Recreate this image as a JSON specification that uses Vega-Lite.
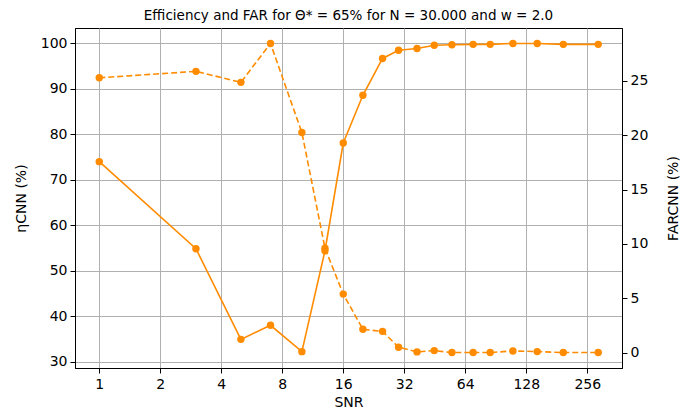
{
  "$schema": "https://vega.github.io/schema/vega-lite/v6.json",
  "width": 547,
  "height": 340,
  "autosize": {"type": "none"},
  "padding": {"left": 75, "top": 28, "right": 63, "bottom": 43},
  "background": "white",
  "config": {
    "font": "DejaVu Sans",
    "view": {"stroke": "black", "strokeWidth": 1},
    "axis": {
      "labelFont": "DejaVu Sans",
      "titleFont": "DejaVu Sans",
      "labelFontSize": 14,
      "titleFontSize": 14,
      "titleFontWeight": "normal",
      "labelColor": "#000",
      "titleColor": "#000",
      "domainColor": "black",
      "tickColor": "black",
      "tickSize": 5,
      "gridColor": "#b0b0b0",
      "gridWidth": 1,
      "gridOpacity": 1
    }
  },
  "title": {
    "text": "Efficiency and FAR for Θ* = 65% for N = 30.000 and w = 2.0",
    "font": "DejaVu Sans",
    "fontSize": 13.5,
    "fontWeight": "normal",
    "color": "#000",
    "offset": 6
  },
  "data": {
    "values": [
      {"snr": 1, "eta": 74.0, "far": 25.28},
      {"snr": 3, "eta": 54.85, "far": 25.87},
      {"snr": 5, "eta": 34.9, "far": 24.86},
      {"snr": 7, "eta": 38.0, "far": 28.44},
      {"snr": 10, "eta": 32.2, "far": 20.24},
      {"snr": 13, "eta": 54.4, "far": 9.6},
      {"snr": 16, "eta": 78.1, "far": 5.38},
      {"snr": 20, "eta": 88.6, "far": 2.14},
      {"snr": 25, "eta": 96.7, "far": 1.95},
      {"snr": 30, "eta": 98.5, "far": 0.49},
      {"snr": 37, "eta": 98.9, "far": 0.06},
      {"snr": 45, "eta": 99.6, "far": 0.18},
      {"snr": 55, "eta": 99.7, "far": 0.0},
      {"snr": 70, "eta": 99.8, "far": 0.0},
      {"snr": 85, "eta": 99.8, "far": 0.0},
      {"snr": 110, "eta": 100.0, "far": 0.15},
      {"snr": 145, "eta": 100.0, "far": 0.09},
      {"snr": 195, "eta": 99.8, "far": 0.0},
      {"snr": 290, "eta": 99.8, "far": 0.0}
    ]
  },
  "encoding": {
    "x": {
      "field": "snr",
      "type": "quantitative",
      "scale": {"type": "log", "base": 2, "domain": [0.759, 380], "nice": false},
      "axis": {
        "title": "SNR",
        "values": [1, 2, 4, 8, 16, 32, 64, 128, 256],
        "format": "d",
        "labelFlush": false,
        "labelPadding": 4,
        "titlePadding": 4
      }
    }
  },
  "layer": [
    {
      "encoding": {
        "y": {
          "field": "eta",
          "type": "quantitative",
          "scale": {"domain": [28.6, 103.4], "nice": false, "zero": false},
          "axis": {
            "orient": "left",
            "title": "ηCNN (%)",
            "values": [30, 40, 50, 60, 70, 80, 90, 100],
            "titlePadding": 12,
            "labelPadding": 3
          }
        }
      },
      "layer": [
        {"mark": {"type": "line", "color": "#ff8c00", "strokeWidth": 1.6}},
        {"mark": {"type": "point", "filled": true, "color": "#ff8c00", "size": 55, "opacity": 1}}
      ]
    },
    {
      "encoding": {
        "y": {
          "field": "far",
          "type": "quantitative",
          "scale": {"domain": [-1.42, 29.86], "nice": false, "zero": false},
          "axis": {
            "orient": "right",
            "title": "FARCNN (%)",
            "titleAngle": 270,
            "titleX": 51,
            "titleY": 170,
            "titleAlign": "center",
            "titleBaseline": "middle",
            "values": [0, 5, 10, 15, 20, 25],
            "gridDash": [3, 3],
            "gridColor": "#b0b0b0",
            "gridWidth": 0.8,
            "labelPadding": 3
          }
        }
      },
      "layer": [
        {"mark": {"type": "line", "color": "#ff8c00", "strokeWidth": 1.6, "strokeDash": [6, 3]}},
        {"mark": {"type": "point", "filled": true, "color": "#ff8c00", "size": 55, "opacity": 1}}
      ]
    }
  ],
  "resolve": {"scale": {"y": "independent"}}
}
